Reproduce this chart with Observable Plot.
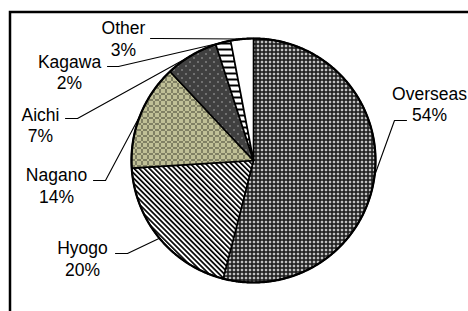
<!DOCTYPE html>
<html>
<head>
<meta charset="utf-8">
<script src="https://cdn.jsdelivr.net/npm/d3@7"></script>
<script src="https://cdn.jsdelivr.net/npm/@observablehq/plot@0.6"></script>
<style>
  html, body { margin: 0; padding: 0; background: #fff; }
  #chart { width: 468px; height: 311px; overflow: hidden; }
</style>
</head>
<body>
<div id="chart"></div>
<script>
// ---- Data ----
const categories = ["Overseas", "Hyogo", "Nagano", "Aichi", "Kagawa", "Other"];
const shares = [54, 20, 14, 7, 2, 3];
const pctLabels = ["54%", "20%", "14%", "7%", "2%", "3%"];

// ---- Layout (pixels) ----
const CX = 253, CY = 160, R = 122;
const FS = 17.5;
const labelLayout = {
  Overseas: { cx: 429, b1: 99,  b2: 120, ly: 120, lx1: 406, lx2: 394 },
  Hyogo:    { cx: 82,  b1: 253, b2: 275, ly: 253, lx1: 115, lx2: 127 },
  Nagano:   { cx: 56,  b1: 180, b2: 202, ly: 180, lx1: 93,  lx2: 105 },
  Aichi:    { cx: 40,  b1: 120, b2: 141, ly: 118, lx1: 65,  lx2: 77 },
  Kagawa:   { cx: 69,  b1: 67,  b2: 88,  ly: 66,  lx1: 107, lx2: 118 },
  Other:    { cx: 123, b1: 33,  b2: 55,  ly: 38,  lx1: 150, lx2: 158 }
};
const patternFor = {
  Overseas: "url(#p-overseas)",
  Hyogo: "url(#p-hyogo)",
  Nagano: "url(#p-nagano)",
  Aichi: "url(#p-aichi)",
  Kagawa: "url(#p-kagawa)",
  Other: "#ffffff"
};

const toUX = px => (px - CX) / R;
const toUY = py => (CY - py) / R;

// ---- Slice geometry from data ----
const total = d3.sum(shares);
let cum = 0;
const slices = categories.map((c, i) => {
  const a0 = cum / total * 2 * Math.PI;
  cum += shares[i];
  const a1 = cum / total * 2 * Math.PI;
  const n = Math.max(2, Math.ceil((a1 - a0) / (Math.PI / 360)));
  const pts = [{x: 0, y: 0}];
  for (let k = 0; k <= n; k++) {
    const a = a0 + (a1 - a0) * k / n;
    pts.push({x: Math.sin(a), y: Math.cos(a)});
  }
  const mid = (a0 + a1) / 2;
  return {cat: c, pct: pctLabels[i], pts, mid};
});
const circlePts = d3.range(0, 720).map(k => {
  const a = k / 720 * 2 * Math.PI;
  return {x: Math.sin(a), y: Math.cos(a)};
});

const leaders = slices.map(s => {
  const L = labelLayout[s.cat];
  return [
    {x: toUX(L.lx1), y: toUY(L.ly)},
    {x: toUX(L.lx2), y: toUY(L.ly)},
    {x: Math.sin(s.mid), y: Math.cos(s.mid)}
  ];
});

const textRows = [];
slices.forEach(s => {
  const L = labelLayout[s.cat];
  textRows.push({x: toUX(L.cx), y: toUY(L.b1 - 0.32 * FS), t: s.cat});
  textRows.push({x: toUX(L.cx), y: toUY(L.b2 - 0.32 * FS), t: s.pct});
});

const chart = Plot.plot({
  width: 468,
  height: 311,
  margin: 0,
  x: {domain: [-1, 1], range: [CX - R, CX + R], axis: null},
  y: {domain: [-1, 1], range: [CY + R, CY - R], axis: null},
  style: {background: "#ffffff", fontFamily: "Arial, 'Liberation Sans', sans-serif", overflow: "hidden"},
  marks: [
    Plot.frame({stroke: "black", strokeWidth: 2.5, insetLeft: 9.5, insetTop: 11.5, insetRight: -6, insetBottom: -6}),
    ...slices.map(s => Plot.line(s.pts, {
      x: "x", y: "y", curve: "linear-closed",
      fill: patternFor[s.cat], stroke: "black", strokeWidth: 1.6, strokeLinejoin: "round"
    })),
    Plot.line(circlePts, {x: "x", y: "y", curve: "linear-closed", fill: "none", stroke: "black", strokeWidth: 2.2}),
    ...leaders.map(l => Plot.line(l, {x: "x", y: "y", stroke: "black", strokeWidth: 1.1})),
    Plot.text(textRows, {x: "x", y: "y", text: "t", fontSize: FS, fill: "#000", textAnchor: "middle"})
  ]
});

// ---- Pattern definitions ----
const NS = "http://www.w3.org/2000/svg";
const defs = document.createElementNS(NS, "defs");
function pixelPattern(id, w, h, fn) {
  const p = document.createElementNS(NS, "pattern");
  p.setAttribute("id", id);
  p.setAttribute("width", w);
  p.setAttribute("height", h);
  p.setAttribute("patternUnits", "userSpaceOnUse");
  for (let y = 0; y < h; y++) for (let x = 0; x < w; x++) {
    const r = document.createElementNS(NS, "rect");
    r.setAttribute("x", x); r.setAttribute("y", y);
    r.setAttribute("width", 1); r.setAttribute("height", 1);
    r.setAttribute("fill", fn(x, y));
    r.setAttribute("shape-rendering", "crispEdges");
    p.appendChild(r);
  }
  defs.appendChild(p);
}
pixelPattern("p-overseas", 4, 4, (x, y) =>
  ((x === 1 && y < 3) || (y === 1 && x < 3)) ? "#ffffff" : (x === 3 && y === 3 ? "#888888" : "#000000"));
pixelPattern("p-nagano", 6, 6, (x, y) => {
  const nearA = Math.abs(x - 3) + Math.abs(y - 3) <= 1;
  if (nearA) return "#ffffc8";
  return (x % 2 === 0 && y % 2 === 0) || (x % 2 === 1 && y % 2 === 1 && (x + y) % 4 === 0) ? "#000000" : "#ffffc8";
});
pixelPattern("p-aichi", 8, 8, (x, y) =>
  ((x === 1 && y === 1) || (x === 5 && y === 5)) ? "#ffffff" : "#404040");
pixelPattern("p-kagawa", 6, 6, (x, y) => (y < 2 ? "#000000" : "#ffffff"));
{
  const p = document.createElementNS(NS, "pattern");
  p.setAttribute("id", "p-hyogo");
  p.setAttribute("width", 3.6);
  p.setAttribute("height", 10);
  p.setAttribute("patternUnits", "userSpaceOnUse");
  p.setAttribute("patternTransform", "rotate(-45)");
  const bg = document.createElementNS(NS, "rect");
  bg.setAttribute("width", 3.6); bg.setAttribute("height", 10); bg.setAttribute("fill", "#fff");
  const ln = document.createElementNS(NS, "rect");
  ln.setAttribute("width", 1.7); ln.setAttribute("height", 10); ln.setAttribute("fill", "#000");
  p.appendChild(bg); p.appendChild(ln);
  defs.appendChild(p);
}
chart.insertBefore(defs, chart.firstChild);

document.getElementById("chart").appendChild(chart);
</script>
</body>
</html>
